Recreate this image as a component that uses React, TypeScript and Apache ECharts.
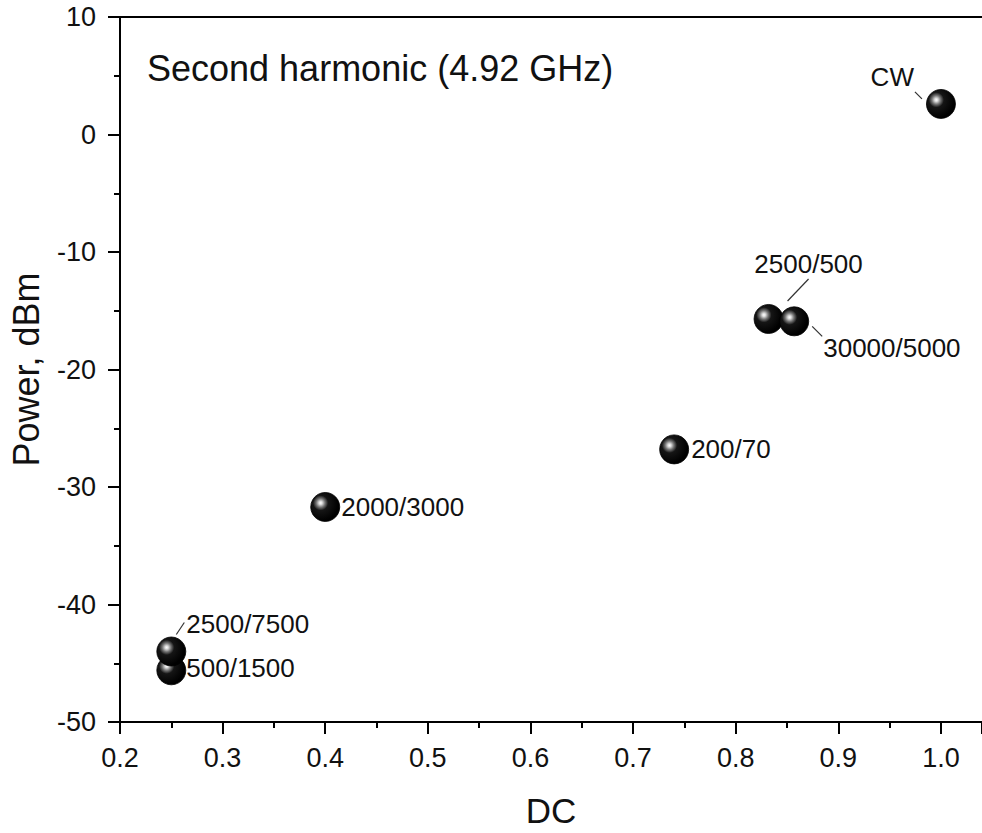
import React, { useEffect, useRef } from "react";
import * as echarts from "echarts";

// Duty cycle (DC) of each pulse regime and measured second-harmonic power
const dcValues = [0.25, 0.25, 0.4, 0.74, 0.832, 0.857, 1.0];
const powerValues = [-45.6, -44.0, -31.7, -26.8, -15.7, -15.9, 2.6];
const pointLabels = ["500/1500", "2500/7500", "2000/3000", "200/70", "2500/500", "30000/5000", "CW"];

// Axis ticks
const xTicks = [0.2, 0.3, 0.4, 0.5, 0.6, 0.7, 0.8, 0.9, 1.0];
const yTicks = [-50, -40, -30, -20, -10, 0, 10];

const FONT = "'Liberation Sans', Arial, Helvetica, sans-serif";

// Label placement around each ball (pixel offsets from its centre)
const labelPlacement: Record<string, { align: string; offset: [number, number] }> = {
  "500/1500": { align: "left", offset: [15, -2] },
  "2500/7500": { align: "left", offset: [15, -28] },
  "2000/3000": { align: "left", offset: [16, 0] },
  "200/70": { align: "left", offset: [17, 0] },
  "2500/500": { align: "center", offset: [40, -55] },
  "30000/5000": { align: "left", offset: [29, 27] },
  CW: { align: "right", offset: [-27, -27] },
};

// Short leader lines joining a ball to its displaced label: [x1, y1, x2, y2]
const leaderLines: Record<string, [number, number, number, number]> = {
  CW: [-26, -12, -19, -5],
  "2500/500": [40, -40, 19, -18],
  "30000/5000": [18, 5, 28, 15],
  "2500/7500": [5, -17, 13, -29],
};

export default function App() {
  const ref = useRef<HTMLDivElement>(null);

  useEffect(() => {
    document.body.style.margin = "0";
    document.body.style.overflow = "hidden";
    if (!ref.current) return;
    const chart = echarts.init(ref.current, undefined, { renderer: "svg" });

    const sphere = new echarts.graphic.RadialGradient(0.34, 0.36, 0.62, [
      { offset: 0, color: "#ffffff" },
      { offset: 0.09, color: "#dcdcdc" },
      { offset: 0.24, color: "#767676" },
      { offset: 0.42, color: "#151515" },
      { offset: 1, color: "#000000" },
    ]);

    const points = dcValues.map((x, i) => {
      const name = pointLabels[i];
      const place = labelPlacement[name];
      return {
        name,
        value: [x, powerValues[i]],
        label: {
          show: true,
          position: "inside",
          align: place.align,
          verticalAlign: "middle",
          offset: place.offset,
        },
      };
    });

    const plainAxisLine = { show: true, onZero: false, lineStyle: { color: "#000", width: 2 } };

    chart.setOption({
      animation: false,
      textStyle: { fontFamily: FONT },
      title: {
        text: "Second harmonic (4.92 GHz)",
        left: 147,
        top: 50,
        padding: 0,
        textStyle: { fontFamily: FONT, fontSize: 36, fontWeight: "normal", color: "#111" },
      },
      grid: {
        left: 119,
        top: 17,
        width: 866,
        bottom: 111,
        show: false,
      },
      xAxis: [
        {
          type: "value",
          min: xTicks[0],
          max: 1.04,
          interval: 0.1,
          name: "DC",
          nameLocation: "middle",
          nameGap: 71,
          nameTextStyle: { fontFamily: FONT, fontSize: 35, color: "#111" },
          axisLine: plainAxisLine,
          axisTick: { show: true, inside: false, length: 12, lineStyle: { color: "#000", width: 2 } },
          minorTick: { show: true, splitNumber: 2, length: 6, lineStyle: { color: "#000", width: 2 } },
          splitLine: { show: false },
          axisLabel: {
            margin: 22,
            fontFamily: FONT,
            fontSize: 27,
            color: "#111",
            showMaxLabel: false,
            formatter: (v: number) => {
              const hit = xTicks.find((t) => Math.abs(t - v) < 1e-6);
              return hit === undefined ? "" : hit.toFixed(1);
            },
          },
        },
        {
          // frame line along the top of the plot
          type: "value",
          position: "top",
          min: xTicks[0],
          max: 1.04,
          interval: 0.1,
          axisLine: plainAxisLine,
          axisTick: { show: false },
          axisLabel: { show: false },
          splitLine: { show: false },
        },
      ],
      yAxis: {
        type: "value",
        min: yTicks[0],
        max: yTicks[yTicks.length - 1],
        interval: 10,
        name: "Power, dBm",
        nameLocation: "middle",
        nameGap: 76,
        nameTextStyle: { fontFamily: FONT, fontSize: 36, color: "#111" },
        axisLine: plainAxisLine,
        axisTick: { show: true, inside: false, length: 12, lineStyle: { color: "#000", width: 2 } },
        minorTick: { show: true, splitNumber: 2, length: 6, lineStyle: { color: "#000", width: 2 } },
        splitLine: { show: false },
        axisLabel: {
          margin: 24,
          fontFamily: FONT,
          fontSize: 27,
          color: "#111",
          formatter: (v: number) => String(v),
        },
      },
      series: [
        {
          type: "custom",
          z: 1,
          silent: true,
          data: dcValues.map((x, i) => [x, powerValues[i]]),
          renderItem: (params: any, api: any) => {
            const lead = leaderLines[pointLabels[params.dataIndex]];
            if (!lead) return { type: "group", children: [] };
            const c = api.coord([api.value(0), api.value(1)]);
            return {
              type: "line",
              shape: { x1: c[0] + lead[0], y1: c[1] + lead[1], x2: c[0] + lead[2], y2: c[1] + lead[3] },
              style: { stroke: "#333", lineWidth: 1.2 },
            };
          },
        },
        {
          type: "scatter",
          z: 2,
          symbol: "circle",
          symbolSize: 29,
          data: points,
          itemStyle: {
            color: sphere,
            borderColor: "#000",
            borderWidth: 0.8,
            opacity: 1,
          },
          label: {
            fontFamily: FONT,
            fontSize: 26,
            color: "#111",
            formatter: (p: any) => p.name,
          },
        },
      ],
    });

    return () => chart.dispose();
  }, []);

  return <div ref={ref} style={{ width: 982, height: 833, overflow: "hidden", background: "#fff" }} />;
}
